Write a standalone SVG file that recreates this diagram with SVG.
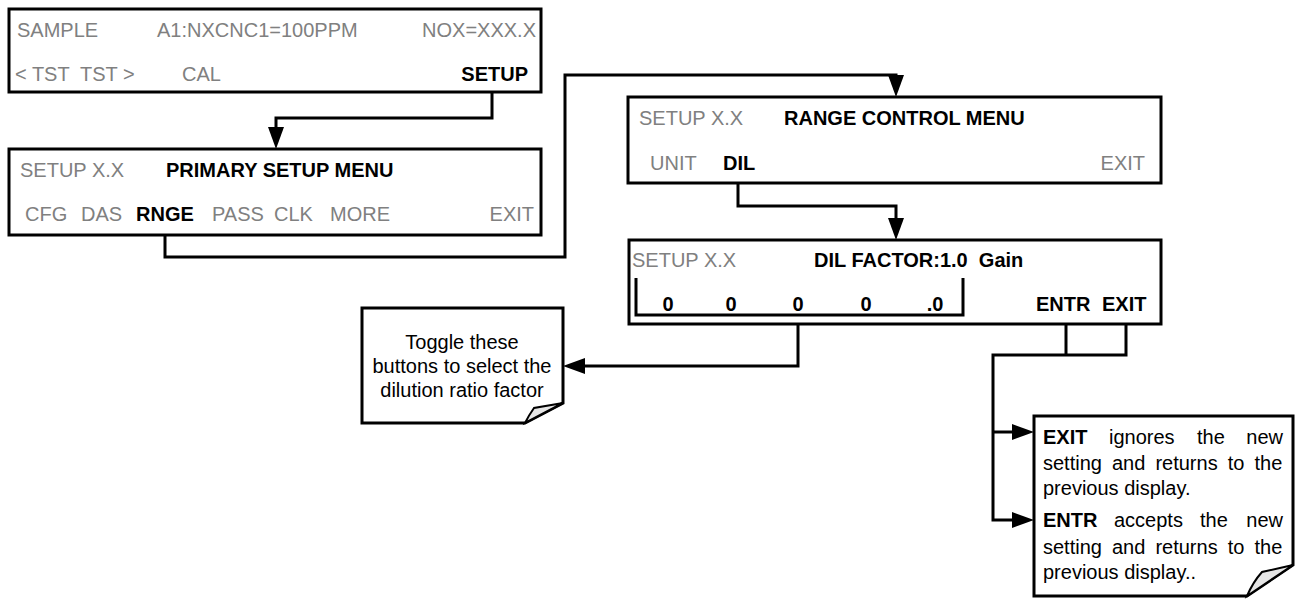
<svg xmlns="http://www.w3.org/2000/svg" width="1299" height="603" viewBox="0 0 1299 603">
<style>
.box{fill:#fff;stroke:#000;stroke-width:3}
.g{font-family:"Liberation Sans",Arial,sans-serif;font-size:20px;fill:#808080}
.b{font-family:"Liberation Sans",Arial,sans-serif;font-size:20px;font-weight:bold;fill:#000}
.n{font-family:"Liberation Sans",Arial,sans-serif;font-size:20px;fill:#000}
.c{fill:none;stroke:#000;stroke-width:3}
.note{fill:#fff;stroke:#000;stroke-width:3;stroke-linejoin:miter}
.fold{fill:#e6e6e6;stroke:#000;stroke-width:2}
</style>
<defs>
<marker id="ah" markerUnits="userSpaceOnUse" markerWidth="22" markerHeight="16" refX="12" refY="8" orient="auto"><path d="M0,0 L22,8 L0,16 z" fill="#000"/></marker>
</defs>
<rect width="1299" height="603" fill="#fff"/>

<g id="connectors">
<path class="c" d="M492,92 V118 H276 V139" marker-end="url(#ah)"/>
<path class="c" d="M165,225 V257 H565 V75 H896 V87" marker-end="url(#ah)"/>
<path class="c" d="M738,173 V206 H896 V230" marker-end="url(#ah)"/>
<path class="c" d="M798,315 V366 H573" marker-end="url(#ah)"/>
<path class="c" d="M1066,324 V355"/>
<path class="c" d="M1126,324 V355 H993 V520 H1024" marker-end="url(#ah)"/>
<path class="c" d="M993,432 H1024" marker-end="url(#ah)"/>
</g>

<g id="box-sample">
<rect class="box" x="9" y="9" width="532" height="83"/>
<text class="g" x="17" y="37">SAMPLE</text>
<text class="g" x="157" y="37">A1:NXCNC1=100PPM</text>
<text class="g" x="536" y="37" text-anchor="end">NOX=XXX.X</text>
<text class="g" x="15" y="81" xml:space="preserve">&lt; TST  TST &gt;</text>
<text class="g" x="182" y="81">CAL</text>
<text class="b" x="528" y="81" text-anchor="end">SETUP</text>
</g>

<g id="box-primary-setup">
<rect class="box" x="9" y="149" width="532" height="86"/>
<text class="g" x="20" y="177">SETUP X.X</text>
<text class="b" x="166" y="177">PRIMARY SETUP MENU</text>
<text class="g" x="25" y="221">CFG</text>
<text class="g" x="81" y="221">DAS</text>
<text class="b" x="136" y="221">RNGE</text>
<text class="g" x="212" y="221">PASS</text>
<text class="g" x="274" y="221">CLK</text>
<text class="g" x="330" y="221">MORE</text>
<text class="g" x="534" y="221" text-anchor="end">EXIT</text>
</g>

<g id="box-range-control">
<rect class="box" x="628" y="97" width="533" height="86"/>
<text class="g" x="639" y="125">SETUP X.X</text>
<text class="b" x="784" y="125">RANGE CONTROL MENU</text>
<text class="g" x="650" y="170">UNIT</text>
<text class="b" x="723" y="170">DIL</text>
<text class="g" x="1145" y="170" text-anchor="end">EXIT</text>
</g>

<g id="box-dil-factor">
<rect class="box" x="629" y="240" width="532" height="84"/>
<text class="g" x="632" y="267">SETUP X.X</text>
<text class="b" x="814" y="267" xml:space="preserve">DIL FACTOR:1.0  Gain</text>
<path class="c" d="M636,278 V315 H963 V278"/>
<text class="b" x="668" y="311" text-anchor="middle">0</text>
<text class="b" x="731" y="311" text-anchor="middle">0</text>
<text class="b" x="798" y="311" text-anchor="middle">0</text>
<text class="b" x="866" y="311" text-anchor="middle">0</text>
<text class="b" x="935" y="311" text-anchor="middle">.0</text>
<text class="b" x="1036" y="311">ENTR</text>
<text class="b" x="1102" y="311">EXIT</text>
</g>

<g id="note-toggle">
<path class="note" d="M362,308 H563 V403 L525,423 H362 Z"/>
<path class="fold" d="M563,403 L534,408 Q529,415 525,423 Z"/>
<text class="n" x="462" y="349" text-anchor="middle">Toggle these</text>
<text class="n" x="462" y="373" text-anchor="middle">buttons to select the</text>
<text class="n" x="462" y="397" text-anchor="middle">dilution ratio factor</text>
</g>

<g id="note-exit-entr">
<path class="note" d="M1034,416 H1293 V565 L1247,596 H1034 Z"/>
<path class="fold" d="M1293,565 L1262,572 Q1253,582 1247,596 Z"/>
<text class="b" x="1043" y="444">EXIT</text>
<text class="n" x="1109" y="444">ignores</text>
<text class="n" x="1197" y="444">the</text>
<text class="n" x="1283" y="444" text-anchor="end">new</text>
<text class="n" x="1043" y="470" word-spacing="4.5">setting and returns to the</text>
<text class="n" x="1043" y="495">previous display.</text>
<text class="b" x="1043" y="527">ENTR</text>
<text class="n" x="1114" y="527">accepts</text>
<text class="n" x="1200" y="527">the</text>
<text class="n" x="1283" y="527" text-anchor="end">new</text>
<text class="n" x="1043" y="554" word-spacing="4.5">setting and returns to the</text>
<text class="n" x="1043" y="579">previous display..</text>
</g>
</svg>
